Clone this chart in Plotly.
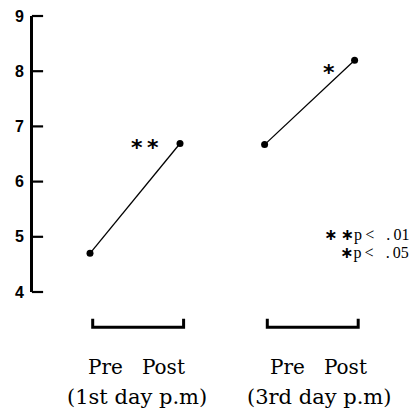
import plotly.graph_objects as go

# Data
conditions = ["Pre", "Post"]
groups = ["(1st day p.m)", "(3rd day p.m)"]
day1_values = [4.7, 6.69]
day3_values = [6.67, 8.2]
sig_marks = ["*\u2009*", "*"]
legend_stars = ["\u2217\u2009\u2217", "\u2217"]
legend_texts = ["p\u2009<\u00a0\u00a0\u00a0.\u200901", "p\u2009<\u00a0\u00a0\u00a0.\u200905"]
y_ticks = [4, 5, 6, 7, 8, 9]

# Layout constants
base_x = [1, 2]
group_offset = [0, 1.94]
W, H = 420, 410
ML, MR, MT, MB = 33, 0, 16, 118
px_per_x = 90
x_range = [1 - 57 / px_per_x, 1 + 330 / px_per_x]

fig = go.Figure()
for vals, off in zip([day1_values, day3_values], group_offset):
    fig.add_trace(go.Scatter(
        x=[b + off for b in base_x], y=vals, mode="lines+markers",
        line=dict(color="black", width=1.3),
        marker=dict(color="black", size=7),
        showlegend=False, cliponaxis=False))

# inward tick marks on the y axis
fig.add_trace(go.Scatter(
    x=[x_range[0] + 4.5 / px_per_x] * len(y_ticks), y=y_ticks, mode="markers",
    marker=dict(symbol="line-ew", size=8, line=dict(color="black", width=2.2)),
    showlegend=False, cliponaxis=False, hoverinfo="skip"))

serif = "DejaVu Serif"
label_centers = [1.52, 3.54]
for off, grp, cx in zip(group_offset, groups, label_centers):
    x0, x1 = 1.03 + off, 2.04 + off
    fig.add_shape(type="path", xref="x", yref="paper",
                  path=f"M {x0},-0.097 L {x0},-0.128 L {x1},-0.128 L {x1},-0.097",
                  line=dict(color="black", width=3))
    fig.add_annotation(x=cx, y=-0.27, xref="x", yref="paper",
                       text="Pre\u00a0\u00a0\u00a0Post", showarrow=False,
                       font=dict(family=serif, size=20, color="black"),
                       yanchor="middle", xanchor="center")
    fig.add_annotation(x=cx, y=-0.38, xref="x", yref="paper",
                       text=grp, showarrow=False,
                       font=dict(family=serif, size=21, color="black"),
                       yanchor="middle", xanchor="center")

# significance stars
star_pos = [(1.61, 6.62), (3.65, 7.97)]
for (sx, sy), s in zip(star_pos, sig_marks):
    fig.add_annotation(x=sx, y=sy, xref="x", yref="y", text=s, showarrow=False,
                       font=dict(family="DejaVu Sans", size=22, color="black", weight="bold"),
                       xanchor="center", yanchor="middle")

legend_rows_y = [5.045, 4.72]
for st, tx, ly in zip(legend_stars, legend_texts, legend_rows_y):
    fig.add_annotation(
        x=0.978, y=ly, xref="paper", yref="y",
        text=f"<span style='font-family:DejaVu Sans;font-weight:bold'>{st}</span>{tx}",
        showarrow=False, align="right",
        font=dict(family="Liberation Serif", size=16, color="black"),
        xanchor="right", yanchor="middle")

fig.update_xaxes(visible=False, range=x_range)
fig.update_yaxes(range=[4, 9], tickvals=y_ticks, ticks="",
                 showline=True, linewidth=3,
                 linecolor="black", showgrid=False, zeroline=False,
                 ticklabelstandoff=3,
                 tickfont=dict(family="Liberation Sans Narrow, Liberation Sans", size=16,
                               color="black", weight="bold"))
fig.update_layout(width=W, height=H, margin=dict(l=ML, r=MR, t=MT, b=MB),
                  plot_bgcolor="white", paper_bgcolor="white")
fig.write_html("out.html")
